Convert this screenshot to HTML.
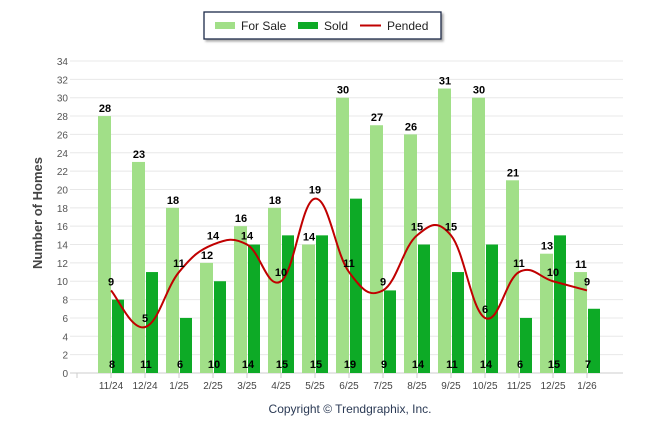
<!DOCTYPE html>
<html><head><meta charset="utf-8"><style>
body{margin:0;background:#fff;font-family:"Liberation Sans",Arial,sans-serif}
svg text{font-family:"Liberation Sans",Arial,sans-serif}
</style></head><body>
<svg id="chart" width="646" height="434" xmlns="http://www.w3.org/2000/svg">
<defs><filter id="sh" x="-5%" y="-20%" width="110%" height="160%"><feDropShadow dx="2" dy="2" stdDeviation="1" flood-color="#888" flood-opacity="0.7"/></filter></defs>
<g id="grid"></g>
<g id="bars"></g>
<g id="line"></g>
<g id="labels"></g>
<text x="42" y="213" transform="rotate(-90 42 213)" text-anchor="middle" font-size="13" font-weight="bold" fill="#444">Number of Homes</text>
<g>
<rect x="204" y="12" width="237" height="27" fill="#fff" stroke="#1a2a4a" stroke-width="1.3" filter="url(#sh)"/>
<rect x="215" y="22" width="20" height="7" fill="#a1df88"/>
<text x="241" y="30" font-size="12" fill="#222">For Sale</text>
<rect x="298" y="22" width="20" height="7" fill="#0daa26"/>
<text x="324" y="30" font-size="12" fill="#222">Sold</text>
<line x1="360" y1="25.5" x2="381" y2="25.5" stroke="#c00000" stroke-width="2"/>
<text x="387" y="30" font-size="12" fill="#222">Pended</text>
</g>
<text x="350" y="413" text-anchor="middle" font-size="12" fill="#2b3a55">Copyright © Trendgraphix, Inc.</text>
</svg>
<script>
const categories=["11/24","12/24","1/25","2/25","3/25","4/25","5/25","6/25","7/25","8/25","9/25","10/25","11/25","12/25","1/26"];
const forSale=[28,23,18,12,16,18,14,30,27,26,31,30,21,13,11];
const sold=[8,11,6,10,14,15,15,19,9,14,11,14,6,15,7];
const pended=[9,5,11,14,14,10,19,11,9,15,15,6,11,10,9];
const yTicks=[0,2,4,6,8,10,12,14,16,18,20,22,24,26,28,30,32,34];
const NS="http://www.w3.org/2000/svg";
function y(v){return 373-v*(312/34);}
function cx(i){return 111+i*34;}
function mk(tag,attrs,parent){const e=document.createElementNS(NS,tag);for(const k in attrs)e.setAttribute(k,attrs[k]);parent.appendChild(e);return e;}
const grid=document.getElementById('grid'),bars=document.getElementById('bars'),line=document.getElementById('line'),labels=document.getElementById('labels');
yTicks.forEach(t=>{
 const g=mk('line',{x1:70,x2:623,y1:y(t),y2:y(t),stroke:t===0?'#ccc':'#e8e8e8','stroke-width':1},grid);
 
 
 const tx=mk('text',{x:68,y:y(t)+4,'text-anchor':'end','font-size':10,fill:'#555'},grid);
 tx.textContent=t;
 
 
});
for(let i=0;i<=15;i++){mk('line',{x1:77+i*34+(i?0:0),x2:77+i*34,y1:373,y2:378,stroke:'#ccc'},grid);}
categories.forEach((c,i)=>{
 const tx=mk('text',{x:cx(i),y:389,'text-anchor':'middle','font-size':10,fill:'#444'},grid);
 tx.textContent=c;
 
 
 const b1=mk('rect',{x:cx(i)-13,y:y(forSale[i]),width:13,height:373-y(forSale[i]),fill:'#a1df88'},bars);
 
 
 const b2=mk('rect',{x:cx(i)+1,y:y(sold[i]),width:12,height:373-y(sold[i]),fill:'#0daa26'},bars);
 
 
 const l1=mk('text',{x:cx(i)-6,y:y(forSale[i])-4,'text-anchor':'middle','font-size':11,'font-weight':'bold',fill:'#000'},labels);
 l1.textContent=forSale[i];
 
 
 const l2=mk('text',{x:cx(i)+1,y:368,'text-anchor':'middle','font-size':11,'font-weight':'bold',fill:'#000'},labels);
 l2.textContent=sold[i];
 
 
 const l3=mk('text',{x:cx(i),y:y(pended[i])-5,'text-anchor':'middle','font-size':11,'font-weight':'bold',fill:'#000'},labels);
 l3.textContent=pended[i];
 
 
});
const pts=pended.map((v,i)=>[cx(i),y(v)]);
let d='M'+pts[0][0]+','+pts[0][1];
for(let i=0;i<pts.length-1;i++){
 const p0=pts[i-1]||pts[i],p1=pts[i],p2=pts[i+1],p3=pts[i+2]||p2;
 const t=0.2;
 d+=' C'+(p1[0]+(p2[0]-p0[0])*t)+','+(p1[1]+(p2[1]-p0[1])*t)+' '+(p2[0]-(p3[0]-p1[0])*t)+','+(p2[1]-(p3[1]-p1[1])*t)+' '+p2[0]+','+p2[1];
}
const path=mk('path',{d:d,fill:'none',stroke:'#c00000','stroke-width':2},line);


</script>
</body></html>
